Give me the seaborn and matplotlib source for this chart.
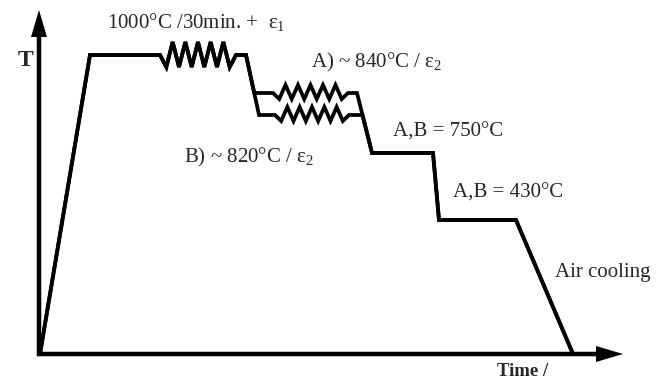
import numpy as np
import pandas as pd
import matplotlib
matplotlib.use("Agg")
import matplotlib.pyplot as plt
import seaborn as sns

sns.set_theme(style="white")
plt.rcParams["font.family"] = ["Liberation Serif", "DejaVu Serif"]
plt.rcParams["mathtext.fontset"] = "stix"

# Schematic process: time in arbitrary units, temperature as schematic height
T_solution = 299      # 1000 °C / 30 min + eps1
T_route_A = 261       # A) ~840 °C / eps2
T_route_B = 239       # B) ~820 °C / eps2
T_step_750 = 201      # A,B = 750 °C
T_step_430 = 134      # A,B = 430 °C

t_start = 1
t_heated = 51
t_def1 = [121, 197]          # first deformation (eps1)
t_hold1_end = 207
t_route_B_reach = 220
t_def2_A = [234, 309]        # second deformation, route A
t_def2_B = [236, 310]        # second deformation, route B
t_route_A_end = 318
t_step750 = [333, 394]
t_step430 = [400, 477]
t_air_end = 534

zig_def1 = (13, -12, 6)      # (up, down, teeth)
zig_def2 = (8, -6, 6)


def zigzag(t0, t1, level, up, down, teeth):
    ts = np.linspace(t0, t1, 2 * teeth + 1)
    vs = [level]
    for i in range(2 * teeth - 1):
        vs.append(level + (down if i % 2 == 0 else up))
    vs.append(level)
    return list(ts), vs


def on_line(p0, p1, level):
    (x0, y0), (x1, y1) = p0, p1
    return x0 + (level - y0) * (x1 - x0) / (y1 - y0)


def build_route(level, t_def):
    t, T = [t_start, t_heated], [0, T_solution]
    zt, zv = zigzag(t_def1[0], t_def1[1], T_solution, *zig_def1)
    t += zt; T += zv
    t.append(t_hold1_end); T.append(T_solution)
    # quench from the solution temperature to the route level
    t.append(on_line((t_hold1_end, T_solution), (t_route_B_reach, T_route_B), level))
    T.append(level)
    zt, zv = zigzag(t_def[0], t_def[1], level, *zig_def2)
    t += zt; T += zv
    t.append(on_line((t_route_A_end, T_route_A), (t_step750[0], T_step_750), level))
    T.append(level)
    t += [t_step750[0], t_step750[1], t_step430[0], t_step430[1], t_air_end]
    T += [T_step_750, T_step_750, T_step_430, T_step_430, 0]
    return t, T


tA, TA = build_route(T_route_A, t_def2_A)
tB, TB = build_route(T_route_B, t_def2_B)
df = pd.concat([
    pd.DataFrame({"time": tA, "T": TA, "route": "A"}),
    pd.DataFrame({"time": tB, "T": TB, "route": "B"}),
])

fig = plt.figure(figsize=(6.67, 3.84), dpi=100)
ax = fig.add_axes([0, 0, 1, 1])
ax.set_xlim(-39, 628)
ax.set_ylim(-30, 354)
ax.axis("off")

sns.lineplot(data=df, x="time", y="T", hue="route", units="route",
             estimator=None, sort=False, palette=["black", "black"],
             lw=2.7, legend=False, ax=ax, solid_joinstyle="miter")

# axes with arrow heads
ax.arrow(0, -2, 0, 346, width=4.5, head_width=16, head_length=27,
         length_includes_head=True, color="black", lw=0)
ax.arrow(-2, 0, 586, 0, width=4.5, head_width=16, head_length=27,
         length_includes_head=True, color="black", lw=0)

fs = 15
eps1 = r"$\mathregular{ε_{1}}$"
eps2 = r"$\mathregular{ε_{2}}$"
ax.text(-21, 294, "T", fontsize=17, fontweight="bold", ha="left", va="center")
ax.text(458, -18, "Time /", fontsize=13.5, fontweight="bold", ha="left", va="center")
ax.text(68, 332, "1000°C /30min. +  " + eps1, fontsize=fs, ha="left", va="center")
ax.text(272, 292, "A) ~ 840°C / " + eps2, fontsize=fs, ha="left", va="center")
ax.text(145, 197, "B) ~ 820°C / " + eps2, fontsize=fs, ha="left", va="center")
ax.text(354, 222, "A,B = 750°C", fontsize=fs, ha="left", va="center")
ax.text(414, 161, "A,B = 430°C", fontsize=fs, ha="left", va="center")
ax.text(516, 82, "Air cooling", fontsize=fs, ha="left", va="center")

fig.savefig("out.png", dpi=100)
